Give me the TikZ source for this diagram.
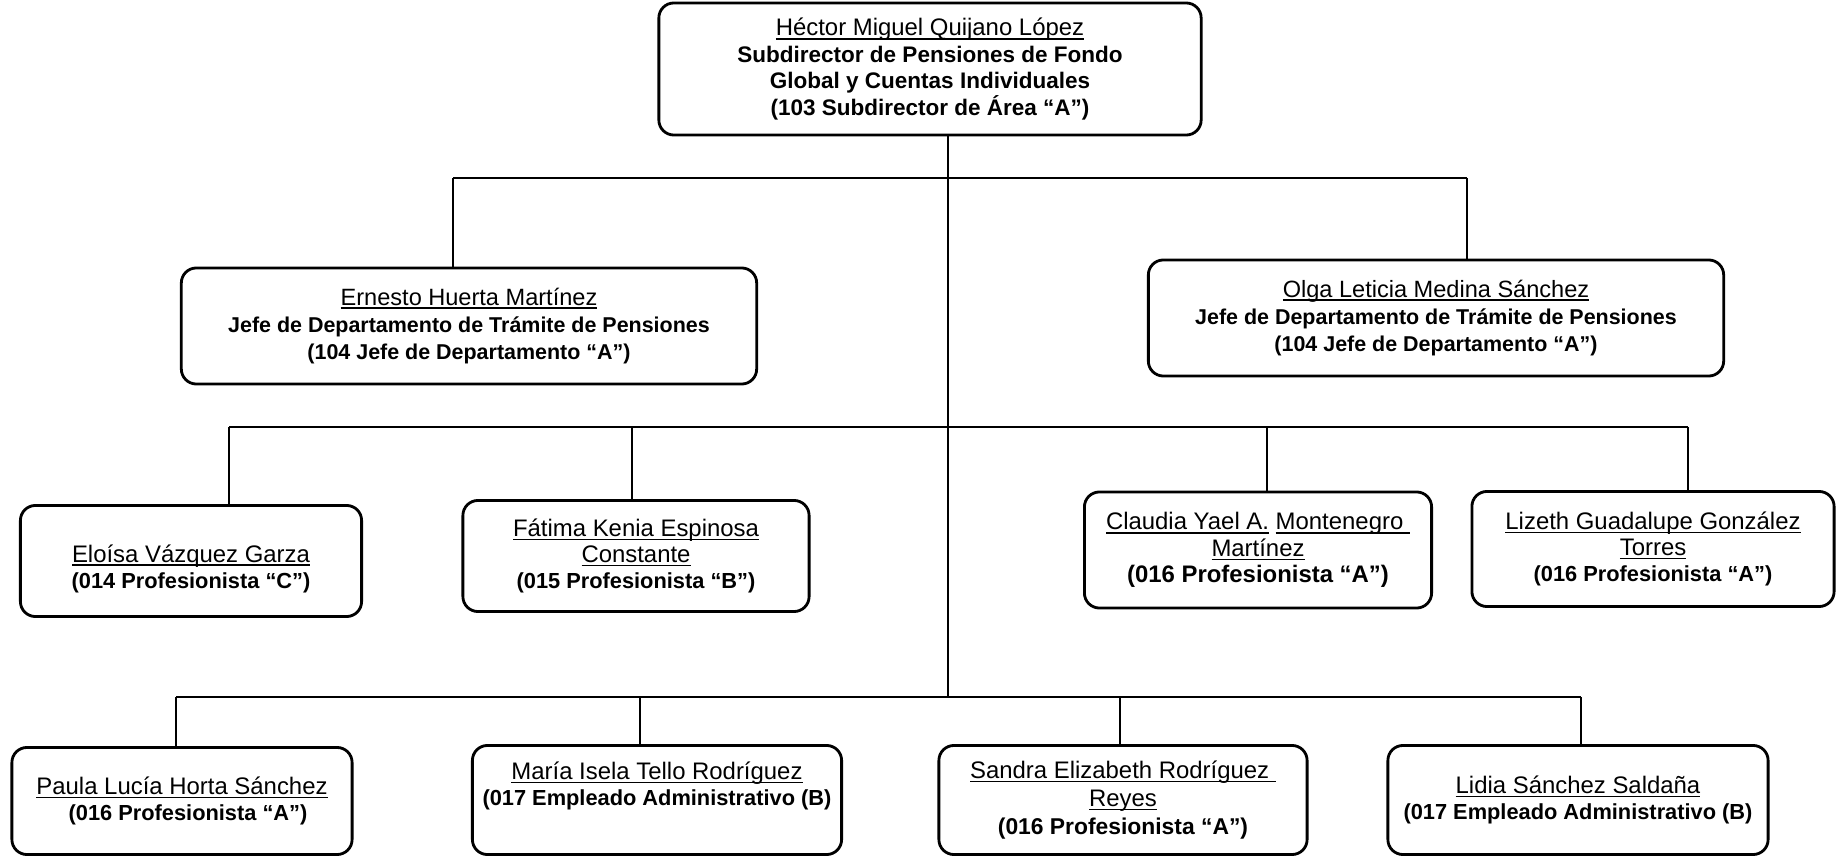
\documentclass[tikz,border=0pt]{standalone}
\usepackage{fontspec}
\setmainfont{Liberation Sans}
\usepackage{tikz}
\usetikzlibrary{positioning,calc}
\tikzstyle{puesto} = [draw,rounded corners=0.15cm,line width=0.8pt,align=center,inner sep=0pt]
\tikzstyle{nivela} = [font=\fontsize{6.4}{7.5}\selectfont]
\tikzstyle{nivelb} = [font=\fontsize{6.1}{7.8}\selectfont]
\tikzstyle{nivelc} = [font=\fontsize{6.2}{7.5}\selectfont]
\tikzstyle{linea} = [line width=0.6pt]
% nombre subrayado sin alterar el interlineado
\newcommand{\nombre}[1]{\setbox0\hbox{#1}\rlap{\rule[-0.16em]{\wd0}{0.4pt}}\box0\relax}
\newcommand{\grande}{\fontsize{6.8}{7.5}\selectfont}

\begin{document}
\begin{tikzpicture}[x=0.01cm,y=-0.01cm]
    \useasboundingbox (0,0) rectangle (1836,858);

    % subdireccion
    \node [puesto,nivela,minimum width=5.42cm,minimum height=1.32cm] (boss) at (930,69) {{\grande\nombre{Héctor Miguel Quijano López}}\\ \textbf{Subdirector de Pensiones de Fondo}\\ \textbf{Global y Cuentas Individuales}\\ \textbf{(103 Subdirector de Área “A”)}};

    % jefaturas
    \node [puesto,nivelb,minimum width=5.75cm,minimum height=1.16cm] (ernesto) at (469,326) {{\fontsize{6.7}{7.8}\selectfont\nombre{Ernesto Huerta Martínez}}\\ \textbf{Jefe de Departamento de Trámite de Pensiones}\\ \textbf{(104 Jefe de Departamento “A”)}};
    \node [puesto,nivelb,minimum width=5.75cm,minimum height=1.16cm] (olga) at (1436,318) {{\fontsize{6.7}{7.8}\selectfont\nombre{Olga Leticia Medina Sánchez}}\\ \textbf{Jefe de Departamento de Trámite de Pensiones}\\ \textbf{(104 Jefe de Departamento “A”)}};

    % profesionistas
    \node [puesto,nivelc,minimum width=3.41cm,minimum height=1.11cm] (eloisa) at (191,561) {{\grande\rule{0pt}{0.33cm}\nombre{Eloísa Vázquez Garza}}\\ \textbf{(014 Profesionista “C")}};
    \node [puesto,nivelc,minimum width=3.46cm,minimum height=1.11cm] (fatima) at (636,556) {{\grande\nombre{Fátima Kenia Espinosa}}\\ {\grande\nombre{Constante}}\\ \textbf{(015 Profesionista “B”)}};
    \node [puesto,nivelc,minimum width=3.47cm,minimum height=1.16cm] (claudia) at (1258,550) {{\grande\nombre{Claudia Yael A.} \nombre{Montenegro\ }}\\ {\grande\nombre{Martínez}}\\ {\grande\textbf{(016 Profesionista “A”)}}};
    \node [puesto,nivelc,minimum width=3.62cm,minimum height=1.15cm] (lizeth) at (1653,549) {{\grande\nombre{Lizeth Guadalupe González}}\\ {\grande\nombre{Torres}}\\ \textbf{(016 Profesionista “A”)}};

    % personal operativo
    \node [puesto,nivelc,minimum width=3.40cm,minimum height=1.07cm] (paula) at (182,801) {{\grande\nombre{Paula Lucía Horta Sánchez}}\\ \textbf{\ \ (016 Profesionista “A")}};
    \node [puesto,nivelc,minimum width=3.69cm,minimum height=1.09cm] (maria) at (657,800) {{\grande\nombre{María Isela Tello Rodríguez}}\\ \textbf{(017 Empleado Administrativo (B)}\rule[-0.32cm]{0pt}{0.32cm}};
    \node [puesto,nivelc,font=\fontsize{6.2}{8}\selectfont,minimum width=3.68cm,minimum height=1.09cm] (sandra) at (1123,800) {{\fontsize{6.8}{8}\selectfont\nombre{Sandra Elizabeth Rodríguez\ }}\\ {\fontsize{6.8}{8}\selectfont\nombre{Reyes}}\\ {\fontsize{6.5}{8}\selectfont\textbf{(016 Profesionista “A”)}}};
    \node [puesto,nivelc,minimum width=3.80cm,minimum height=1.09cm] (lidia) at (1578,800) {{\grande\nombre{Lidia Sánchez Saldaña}}\\ \textbf{(017 Empleado Administrativo (B)}};

    % lineas de mando
    \coordinate (bus1w) at (453,178);
    \coordinate (bus1e) at (1467,178);
    \coordinate (bus2w) at (229,427);
    \coordinate (bus2e) at (1688,427);
    \coordinate (bus3w) at (176,697);
    \coordinate (bus3e) at (1581,697);
    \coordinate (fork2) at (632,427);
    \coordinate (fork3) at (1267,427);
    \coordinate (fork4) at (640,697);
    \coordinate (fork5) at (1120,697);
    \coordinate (fin) at (948,697);

    \draw [linea] (boss.south -| fin) -- (fin);
    \draw [linea] (bus1w) -- (bus1e);
    \draw [linea] (bus1w) -- (bus1w |- ernesto.north);
    \draw [linea] (bus1e) -- (bus1e |- olga.north);
    \draw [linea] (bus2w) -- (bus2e);
    \draw [linea] (bus2w) -- (bus2w |- eloisa.north);
    \draw [linea] (fork2) -- (fork2 |- fatima.north);
    \draw [linea] (fork3) -- (fork3 |- claudia.north);
    \draw [linea] (bus2e) -- (bus2e |- lizeth.north);
    \draw [linea] (bus3w) -- (bus3e);
    \draw [linea] (bus3w) -- (bus3w |- paula.north);
    \draw [linea] (fork4) -- (fork4 |- maria.north);
    \draw [linea] (fork5) -- (fork5 |- sandra.north);
    \draw [linea] (bus3e) -- (bus3e |- lidia.north);
\end{tikzpicture}
\end{document}
